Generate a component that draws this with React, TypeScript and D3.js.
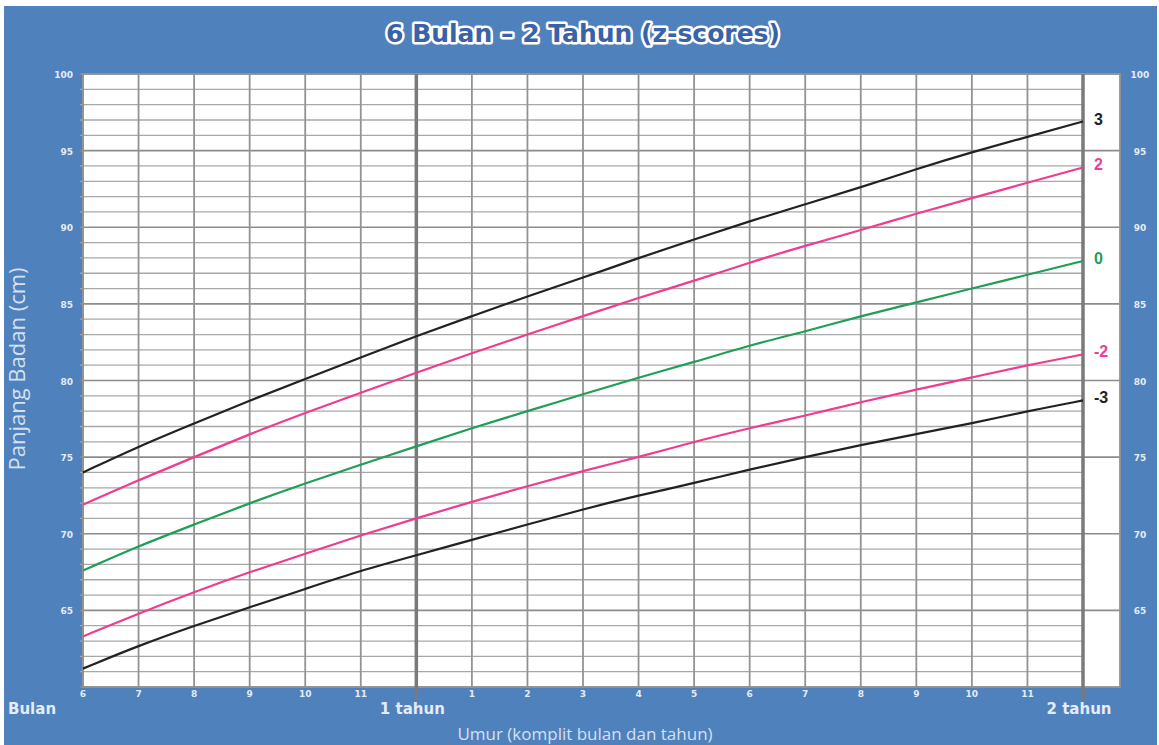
import React from 'react';
import * as d3 from 'd3';

const months = [6, 7, 8, 9, 10, 11, 12, 13, 14, 15, 16, 17, 18, 19, 20, 21, 22, 23, 24];
const sdMinus3 = [61.2, 62.7, 64.0, 65.2, 66.4, 67.6, 68.6, 69.6, 70.6, 71.6, 72.5, 73.3, 74.2, 75.0, 75.8, 76.5, 77.2, 78.0, 78.7];
const sdMinus2 = [63.3, 64.8, 66.2, 67.5, 68.7, 69.9, 71.0, 72.1, 73.1, 74.1, 75.0, 76.0, 76.9, 77.7, 78.6, 79.4, 80.2, 81.0, 81.7];
const sdMedian = [67.6, 69.2, 70.6, 72.0, 73.3, 74.5, 75.7, 76.9, 78.0, 79.1, 80.2, 81.2, 82.3, 83.2, 84.2, 85.1, 86.0, 86.9, 87.8];
const sdPlus2 = [71.9, 73.5, 75.0, 76.5, 77.9, 79.2, 80.5, 81.8, 83.0, 84.2, 85.4, 86.5, 87.7, 88.8, 89.8, 90.9, 91.9, 92.9, 93.9];
const sdPlus3 = [74.0, 75.7, 77.2, 78.7, 80.1, 81.5, 82.9, 84.2, 85.5, 86.7, 88.0, 89.2, 90.4, 91.5, 92.6, 93.8, 94.9, 95.9, 96.9];
const monthLabels = ['6', '7', '8', '9', '10', '11', '', '1', '2', '3', '4', '5', '6', '7', '8', '9', '10', '11', ''];
const yearMarks = [12, 24];
const yearLabels = ['1 tahun', '2 tahun'];
const yTicks = [100, 95, 90, 85, 80, 75, 70, 65];

const series = [
  { label: '3', values: sdPlus3, color: '#222222' },
  { label: '2', values: sdPlus2, color: '#ee3d8f' },
  { label: '0', values: sdMedian, color: '#1f9e55' },
  { label: '-2', values: sdMinus2, color: '#ee3d8f' },
  { label: '-3', values: sdMinus3, color: '#222222' },
];

export default function App() {
  const W = 1159, H = 745;
  const x = d3.scaleLinear().domain([6, 24]).range([83, 1083]);
  const y = d3.scaleLinear().domain([60, 100]).range([687, 74]);
  const rightEdge = 1120;
  const cmLines = d3.range(60, 101, 1);
  const line = d3.line<number>().x((_, i) => x(months[i])).y((v) => y(v)).curve(d3.curveBasis);
  const light = '#e4ecf7';

  return (
    <svg width={W} height={H} style={{ position: 'absolute', left: 0, top: 0, display: 'block' }}>
      <rect x={0} y={0} width={W} height={H} fill="#ffffff" />
      <rect x={4} y={6} width={W - 6} height={H - 6} fill="#4f81bd" />
      <text x={583} y={42} textAnchor="middle" fontFamily="'DejaVu Sans', sans-serif" fontWeight="bold" fontSize={25}
        fill="#3a62a6" stroke="#ffffff" strokeWidth={5} strokeLinejoin="round" style={{ paintOrder: 'stroke' }}>
        6 Bulan – 2 Tahun (z-scores)
      </text>
      {/* plot background */}
      <rect x={x(6)} y={y(100)} width={rightEdge - x(6)} height={y(60) - y(100)} fill="#ffffff" />
      {/* horizontal grid */}
      {cmLines.map((c) => (
        <line key={'h' + c} x1={x(6) - 3} x2={x(24)} y1={y(c)} y2={y(c)}
          stroke={c % 5 === 0 ? '#8c8c8c' : '#a8a8a8'} strokeWidth={c % 5 === 0 ? 1.6 : 1.3} />
      ))}
      {yTicks.map((c) => (
        <line key={'hr' + c} x1={x(24)} x2={rightEdge} y1={y(c)} y2={y(c)} stroke="#8c8c8c" strokeWidth={1.6} />
      ))}
      {/* vertical grid */}
      {months.map((m) => (
        <line key={'v' + m} x1={x(m)} x2={x(m)} y1={y(100)} y2={y(60)} stroke="#939393" strokeWidth={1.8} />
      ))}
      <rect x={x(6)} y={y(100)} width={rightEdge - x(6)} height={y(60) - y(100)} fill="none" stroke="#939393" strokeWidth={1.8} />
      {yearMarks.map((m) => (
        <line key={'yr' + m} x1={x(m)} x2={x(m)} y1={y(100)} y2={700} stroke="#7a7a7a" strokeWidth={3.5} />
      ))}
      {/* curves */}
      {series.map((s) => (
        <path key={'p' + s.label} d={line(s.values) || ''} fill="none" stroke={s.color} strokeWidth={2.2} />
      ))}
      {series.map((s) => (
        <text key={'l' + s.label} x={1094} y={y(s.values[s.values.length - 1]) + 3} fontFamily="'Liberation Sans', Arial, sans-serif"
          fontWeight="bold" fontSize={16} fill={s.color}>
          {s.label}
        </text>
      ))}
      {/* y tick labels */}
      {yTicks.map((c) => (
        <g key={'yt' + c}>
          <text x={73} y={y(c) + 4} textAnchor="end" fontFamily="'DejaVu Sans', sans-serif" fontWeight="bold" fontSize={9} fill={light}>{c}</text>
          <text x={1140} y={y(c) + 4} textAnchor="middle" fontFamily="'DejaVu Sans', sans-serif" fontWeight="bold" fontSize={9} fill={light}>{c}</text>
        </g>
      ))}
      {/* x tick labels */}
      {months.map((m, i) => (
        <text key={'xt' + m} x={x(m)} y={697} textAnchor="middle" fontFamily="'DejaVu Sans', sans-serif" fontWeight="bold" fontSize={9} fill={light}>
          {monthLabels[i]}
        </text>
      ))}
      {yearMarks.map((m, i) => (
        <text key={'yl' + m} x={x(m) - 4} y={714} textAnchor="middle" fontFamily="'DejaVu Sans', sans-serif" fontWeight="bold" fontSize={15} fill={light}>
          {yearLabels[i]}
        </text>
      ))}
      <text x={8} y={714} fontFamily="'DejaVu Sans', sans-serif" fontWeight="bold" fontSize={15} fill={light}>Bulan</text>
      <text x={585} y={740} textAnchor="middle" fontFamily="'Open Sans', 'DejaVu Sans', sans-serif" fontSize={17} fill="#d4e0f0">
        Umur (komplit bulan dan tahun)
      </text>
      <text transform="translate(25,369) rotate(-90)" textAnchor="middle" fontFamily="'Open Sans', 'DejaVu Sans', sans-serif" fontSize={22} fill="#d4e0f0">
        Panjang Badan (cm)
      </text>
    </svg>
  );
}
